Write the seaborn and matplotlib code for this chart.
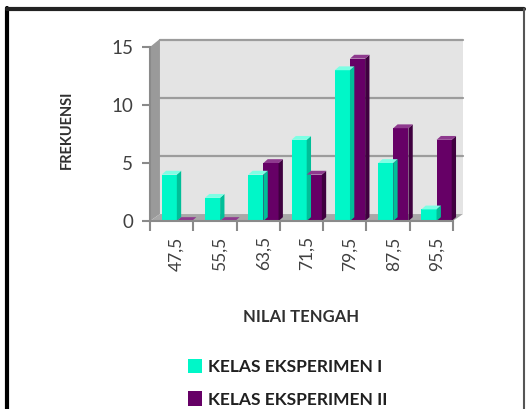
import numpy as np
import pandas as pd
import matplotlib
matplotlib.use("Agg")
import matplotlib.pyplot as plt
import seaborn as sns
from matplotlib.patches import Polygon, Rectangle
from matplotlib.lines import Line2D

# ---- data ----
categories = ["47,5", "55,5", "63,5", "71,5", "79,5", "87,5", "95,5"]
series_names = ["KELAS EKSPERIMEN I", "KELAS EKSPERIMEN II"]
exp1 = [4, 2, 4, 7, 13, 5, 1]
exp2 = [0, 0, 5, 4, 14, 8, 7]
y_ticks = [0, 5, 10, 15]

df = pd.DataFrame({
    "nilai": categories * 2,
    "frek": exp1 + exp2,
    "kelas": [series_names[0]] * len(exp1) + [series_names[1]] * len(exp2),
})

colors = {"front": ["#00F7C8", "#660066"],
          "side": ["#00BF98", "#3F003F"],
          "top": ["#7DFFE4", "#8E3A8E"]}

sns.set_theme(style="white")
plt.rcParams["font.family"] = ["Lato", "DejaVu Sans"]

W, H = 526, 409
fig = plt.figure(figsize=(W / 100, H / 100), dpi=100)
ax = fig.add_axes([150 / W, (H - 221) / H, 303 / W, 182 / H])

sns.barplot(data=df, x="nilai", y="frek", hue="kelas", order=categories,
            hue_order=series_names, palette=colors["front"], width=0.7,
            saturation=1, ax=ax, legend=False, edgecolor="none", zorder=3)

n = len(categories)
xl = -0.62
xr = xl + n
ymax = 15.69
ax.set_xlim(xl, xr)
ax.set_ylim(0, ymax)

# 3D depth offsets (data units)
dx = 0.23
dy = 0.6

# back wall
ax.add_patch(Rectangle((xl + dx, dy), n, ymax - dy, facecolor="#E4E4E4",
                       edgecolor="none", zorder=0, clip_on=False))
# back-wall grid lines
for v in y_ticks[1:]:
    ax.plot([xl + dx, xr + dx], [v + dy, v + dy], color="#9C9C9C",
            lw=1.6, zorder=0.5, clip_on=False)
# left wall
ax.add_patch(Polygon([(xl, 0), (xl, 15), (xl + dx, 15 + dy + 0.1), (xl + dx, dy)],
                     closed=True, facecolor="#9A9A9A", edgecolor="none", zorder=1,
                     clip_on=False))
# floor
ax.add_patch(Polygon([(xl, 0), (xr, 0), (xr + dx, dy), (xl + dx, dy)],
                     closed=True, facecolor="#A8A8A8", edgecolor="none", zorder=1,
                     clip_on=False))

# 3D faces on the bars
bars = [p for p in ax.patches if isinstance(p, Rectangle) and p.get_zorder() == 3]
bdx = 0.1
bdy = 0.33
for i, b in enumerate(bars):
    s = 0 if i < n else 1
    x0 = b.get_x()
    x1 = x0 + b.get_width()
    h = b.get_height()
    ax.add_patch(Polygon([(x1, 0), (x1, h), (x1 + bdx, h + bdy), (x1 + bdx, bdy)],
                         closed=True, facecolor=colors["side"][s], edgecolor="none",
                         zorder=3, clip_on=False))
    ax.add_patch(Polygon([(x0, h), (x1, h), (x1 + bdx, h + bdy), (x0 + bdx, h + bdy)],
                         closed=True, facecolor=colors["top"][s], edgecolor="none",
                         zorder=3, clip_on=False))

# axes styling
for sp in ["top", "right"]:
    ax.spines[sp].set_visible(False)
for sp in ["left", "bottom"]:
    ax.spines[sp].set_color("#8A8A8A")
    ax.spines[sp].set_linewidth(1.5)
    ax.spines[sp].set_zorder(4)
ax.spines["left"].set_bounds(0, 15)

ax.set_yticks(y_ticks)
ax.set_yticklabels([str(v) for v in y_ticks], fontsize=13.5, color="#404040")
ax.tick_params(axis="y", which="major", length=6, width=1.5, color="#8A8A8A",
               direction="out", left=True, pad=6)

ax.set_xticks(range(n))
ax.set_xticklabels(categories, rotation=90, fontsize=12.5, color="#404040")
ax.set_xticks(np.arange(xl, xr + 0.5, 1), minor=True)
ax.tick_params(axis="x", which="major", length=0, pad=11)
ax.tick_params(axis="x", which="minor", length=7, width=1.5, color="#8A8A8A",
               direction="out", bottom=True)

ax.set_xlabel("NILAI TENGAH", fontsize=12, fontweight="bold", color="#303030",
              labelpad=28)
ax.set_ylabel("FREKUENSI", fontsize=10.5, fontweight="bold", color="#303030",
              labelpad=27)
ax.grid(False)

# legend
handles = [Rectangle((0, 0), 1, 1, facecolor=c, edgecolor="none") for c in colors["front"]]
fig.legend(handles, series_names, loc="upper left", bbox_to_anchor=(172 / W, 1 - 343 / H),
           frameon=False, handlelength=0.85, handleheight=0.9, handletextpad=0.3,
           labelspacing=0.95, prop={"size": 12.5, "weight": "bold"}, labelcolor="#202020")

# outer frame
fig.add_artist(Line2D([7 / W, 7 / W], [0, 1 - 8 / H], color="black", lw=3,
                      transform=fig.transFigure))
fig.add_artist(Line2D([7 / W, 524 / W], [1 - 9 / H, 1 - 9 / H], color="#222222", lw=3,
                      transform=fig.transFigure))
fig.add_artist(Line2D([524 / W, 524 / W], [0, 1 - 9 / H], color="#555555", lw=1.5,
                      transform=fig.transFigure))

fig.savefig("out.png", dpi=100, facecolor="white")
